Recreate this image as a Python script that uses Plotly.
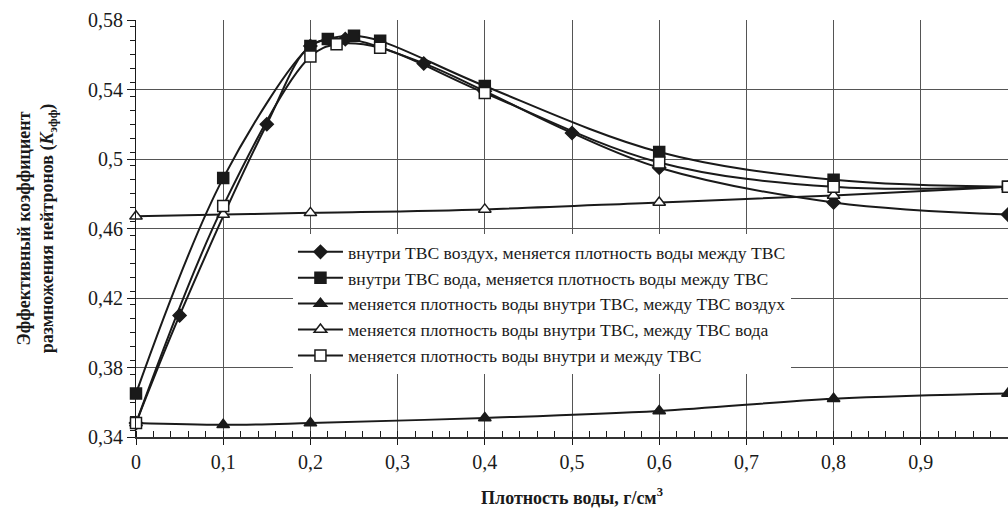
import plotly.graph_objects as go

# ==== data ====
x_diam = [0, 0.05, 0.15, 0.2, 0.24, 0.33, 0.4, 0.5, 0.6, 0.8, 1.0]
y_diam = [0.348, 0.41, 0.52, 0.565, 0.569, 0.555, 0.539, 0.515, 0.495, 0.475, 0.468]

x_bsq = [0, 0.1, 0.2, 0.22, 0.25, 0.28, 0.4, 0.6, 0.8, 1.0]
y_bsq = [0.365, 0.489, 0.565, 0.569, 0.571, 0.568, 0.542, 0.504, 0.488, 0.484]

x_btri = [0, 0.1, 0.2, 0.4, 0.6, 0.8, 1.0]
y_btri = [0.348, 0.347, 0.348, 0.351, 0.355, 0.362, 0.365]

x_wtri = [0, 0.1, 0.2, 0.4, 0.6, 0.8, 1.0]
y_wtri = [0.467, 0.468, 0.469, 0.471, 0.475, 0.479, 0.484]

x_wsq = [0, 0.1, 0.2, 0.23, 0.28, 0.4, 0.6, 0.8, 1.0]
y_wsq = [0.348, 0.473, 0.559, 0.566, 0.564, 0.538, 0.498, 0.484, 0.484]

names = ['внутри ТВС воздух, меняется плотность воды между ТВС',
         'внутри ТВС вода, меняется плотность воды между ТВС',
         'меняется плотность воды внутри ТВС, между ТВС воздух',
         'меняется плотность воды внутри ТВС, между ТВС вода',
         'меняется плотность воды внутри и между ТВС']

# ==== settings ====
serif = 'Times New Roman'
ink = '#1a1a1a'
grid = '#555555'

fig = go.Figure()


def add_series(x, y, name, symbol, fill, size):
    fig.add_trace(go.Scatter(
        x=x, y=y, name=name, mode='lines+markers',
        line=dict(color=ink, width=2, shape='spline', smoothing=1),
        marker=dict(symbol=symbol, size=size, color=fill, line=dict(color=ink, width=1.5)),
        cliponaxis=False))


add_series(x_diam, y_diam, names[0], 'diamond', ink, 10)
add_series(x_bsq, y_bsq, names[1], 'square', ink, 11)
add_series(x_btri, y_btri, names[2], 'triangle-up', ink, 11)
add_series(x_wtri, y_wtri, names[3], 'triangle-up', 'white', 11)
add_series(x_wsq, y_wsq, names[4], 'square', 'white', 11)

fig.update_xaxes(
    range=[0, 1], dtick=0.1, tick0=0, automargin=False,
    showgrid=True, gridcolor=grid, gridwidth=1,
    showline=True, linecolor='#333333', linewidth=2,
    ticks='outside', ticklen=6, tickcolor=ink,
    minor=dict(dtick=0.02, ticks='inside', ticklen=6, tickcolor=ink, showgrid=False),
    tickfont=dict(family=serif, size=20, color=ink),
    zeroline=False,
    title=dict(text='<b>Плотность воды, г/см<sup>3</sup></b>', standoff=19,
               font=dict(family=serif, size=18, color=ink)),
)
fig.update_yaxes(
    range=[0.34, 0.58], dtick=0.04, tick0=0.34, automargin=False,
    showgrid=True, gridcolor=grid, gridwidth=1,
    showline=True, linecolor=ink, linewidth=1,
    ticks='outside', ticklen=8, tickcolor=ink,
    minor=dict(dtick=0.008, ticks='outside', ticklen=5, tickcolor=ink, showgrid=False),
    tickfont=dict(family=serif, size=20, color=ink),
    zeroline=False,
    title=dict(text='<b>Эффективный коэффициент<br>размножения нейтронов (<i>K</i><sub>эфф</sub>)</b>',
               standoff=29, font=dict(family=serif, size=18, color=ink)),
)

fig.update_layout(
    width=1008, height=514,
    margin=dict(l=136, r=0, t=20, b=77),
    plot_bgcolor='white', paper_bgcolor='white',
    separators=', ',
    font=dict(family=serif, color=ink),
    showlegend=True,
    legend=dict(
        x=0.18, y=0.487, xanchor='left', yanchor='top',
        bgcolor='white', borderwidth=0,
        font=dict(family=serif, size=17.6, color=ink),
        itemwidth=45, tracegroupgap=8,
    ),
)

fig.write_html('out.html', config={'displayModeBar': False},
               post_script="document.body.style.margin='0';")
